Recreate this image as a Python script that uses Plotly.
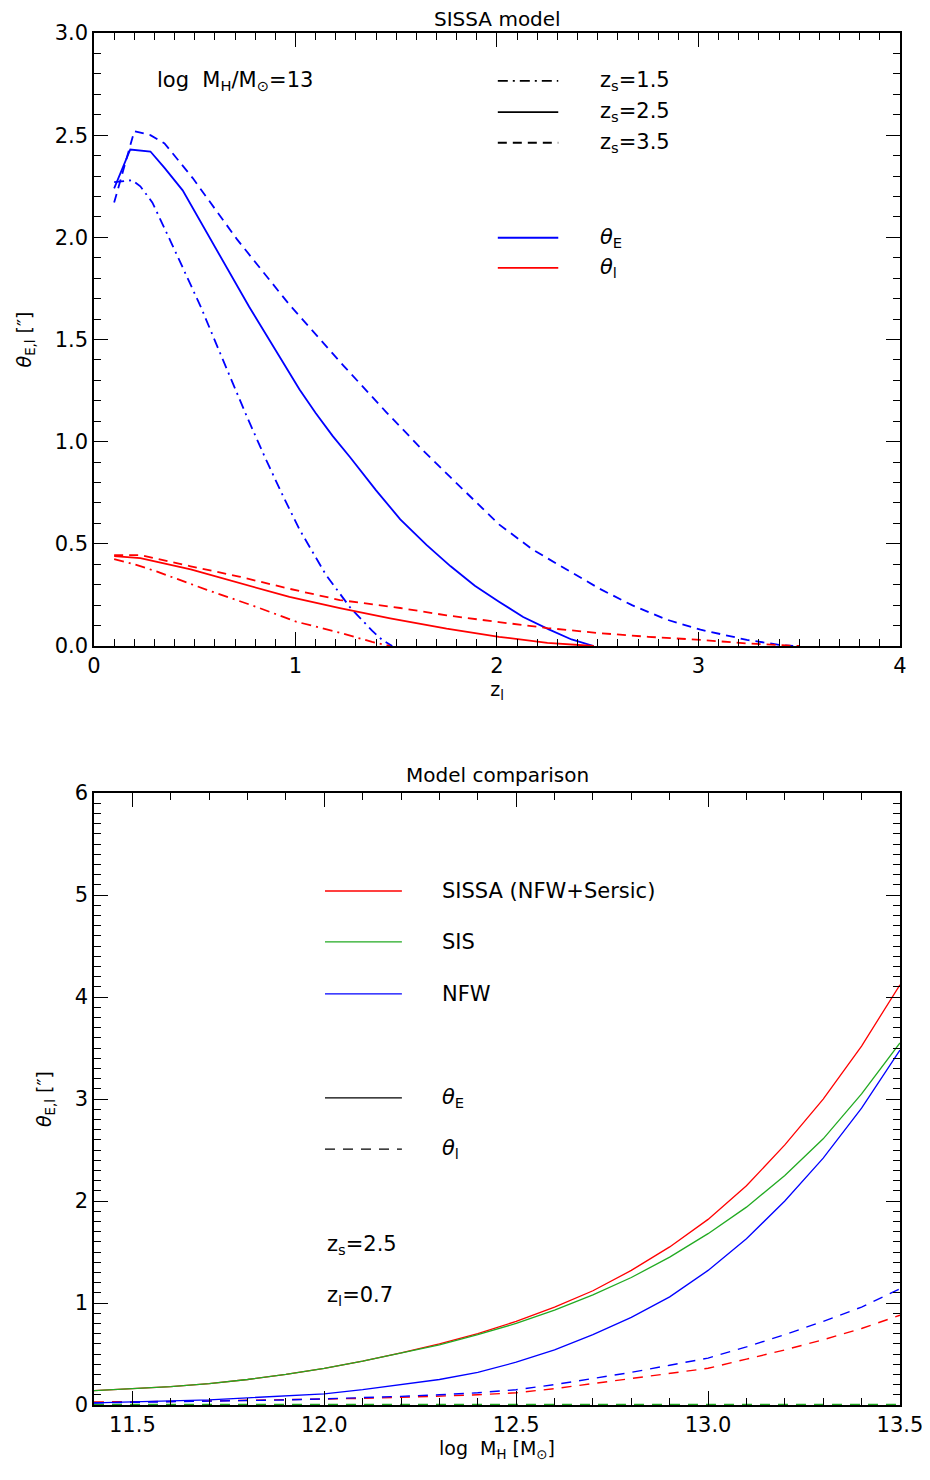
import plotly.graph_objects as go

# ---------------- Top panel data (SISSA model, log MH = 13) ----------------
zl_e15 = [0.10, 0.19, 0.23, 0.29, 0.39, 0.53, 0.64, 0.76, 0.85, 0.94, 1.02, 1.15, 1.27, 1.38, 1.43, 1.48]
te_e15 = [2.27, 2.28, 2.25, 2.17, 1.96, 1.66, 1.40, 1.12, 0.92, 0.73, 0.57, 0.35, 0.19, 0.075, 0.03, 0.0]

zl_e25 = [0.10, 0.18, 0.28, 0.35, 0.44, 0.61, 0.77, 0.94, 1.02, 1.10, 1.185, 1.27, 1.40, 1.52,
          1.65, 1.77, 1.89, 2.01, 2.13, 2.26, 2.37, 2.48]
te_e25 = [2.24, 2.43, 2.42, 2.34, 2.23, 1.94, 1.66, 1.385, 1.255, 1.14, 1.027, 0.925, 0.762, 0.62,
          0.495, 0.39, 0.295, 0.217, 0.142, 0.08, 0.032, 0.0]

zl_e35 = [0.10, 0.20, 0.28, 0.35, 0.49, 0.71, 0.97, 1.24, 1.45, 1.62, 1.77, 1.90, 2.01, 2.18,
          2.35, 2.51, 2.67, 2.84, 3.01, 3.24, 3.40, 3.47]
te_e35 = [2.17, 2.52, 2.50, 2.46, 2.29, 1.99, 1.67, 1.37, 1.145, 0.97, 0.825, 0.70, 0.595, 0.47,
          0.37, 0.28, 0.20, 0.13, 0.08, 0.03, 0.006, 0.0]

zl_i15 = [0.10, 0.20, 0.31, 0.56, 0.81, 1.00, 1.22, 1.38, 1.47]
ti_i15 = [0.425, 0.40, 0.365, 0.275, 0.19, 0.12, 0.065, 0.02, 0.0]

zl_i25 = [0.10, 0.23, 0.48, 0.72, 0.97, 1.22, 1.47, 1.75, 2.01, 2.25, 2.48]
ti_i25 = [0.44, 0.43, 0.375, 0.31, 0.24, 0.185, 0.135, 0.085, 0.045, 0.015, 0.0]

zl_i35 = [0.10, 0.23, 0.48, 0.72, 0.97, 1.22, 1.52, 1.75, 2.01, 2.25, 2.51, 2.75, 3.01, 3.25, 3.50]
ti_i35 = [0.445, 0.445, 0.39, 0.34, 0.28, 0.225, 0.186, 0.15, 0.117, 0.088, 0.063, 0.045, 0.03, 0.012, 0.0]

# ---------------- Bottom panel data (model comparison) ----------------
logM = [11.4, 11.5, 11.6, 11.7, 11.8, 11.9, 12.0, 12.1, 12.2, 12.3, 12.4,
        12.5, 12.6, 12.7, 12.8, 12.9, 13.0, 13.1, 13.2, 13.3, 13.4, 13.5]
sissa_E = [0.14, 0.16, 0.18, 0.21, 0.25, 0.30, 0.36, 0.43, 0.51, 0.60, 0.70,
           0.82, 0.96, 1.12, 1.32, 1.55, 1.82, 2.15, 2.55, 3.00, 3.52, 4.12]
sis_E = [0.14, 0.16, 0.18, 0.21, 0.25, 0.30, 0.36, 0.43, 0.51, 0.59, 0.69,
         0.80, 0.93, 1.08, 1.25, 1.45, 1.68, 1.94, 2.25, 2.61, 3.05, 3.55]
nfw_E = [0.02, 0.03, 0.04, 0.05, 0.07, 0.09, 0.11, 0.15, 0.20, 0.25, 0.32,
         0.42, 0.54, 0.69, 0.86, 1.06, 1.32, 1.63, 2.00, 2.42, 2.91, 3.48]
sissa_I = [0.03, 0.03, 0.035, 0.04, 0.045, 0.05, 0.055, 0.065, 0.075, 0.085, 0.10,
           0.12, 0.16, 0.21, 0.26, 0.31, 0.36, 0.45, 0.54, 0.64, 0.75, 0.88]
sis_I = [0.005] * 22
nfw_I = [0.02, 0.025, 0.03, 0.035, 0.04, 0.05, 0.06, 0.07, 0.085, 0.10, 0.12,
         0.15, 0.20, 0.26, 0.32, 0.39, 0.46, 0.57, 0.69, 0.82, 0.96, 1.14]

top_xticks = [0, 1, 2, 3, 4]
top_yticks = [0.0, 0.5, 1.0, 1.5, 2.0, 2.5, 3.0]
bot_xticks = [11.5, 12.0, 12.5, 13.0, 13.5]
bot_yticks = [0, 1, 2, 3, 4, 5, 6]

BLUE = "#0000ff"
RED = "#ff0000"
GREEN = "#22aa22"
DASH = "9px,6px"
DASHDOT = "10px,5px,2px,5px"
BDASH = "10px,8px"
FONT = "DejaVu Sans"

fig = go.Figure()

def add(x, y, color, dash, width, xa, ya):
    fig.add_trace(go.Scatter(x=x, y=y, mode="lines",
                             line=dict(color=color, dash=dash, width=width),
                             xaxis=xa, yaxis=ya, showlegend=False,
                             hoverinfo="skip"))

# top panel
add(zl_e15, te_e15, BLUE, DASHDOT, 1.8, "x", "y")
add(zl_e25, te_e25, BLUE, "solid", 1.8, "x", "y")
add(zl_e35, te_e35, BLUE, DASH, 1.8, "x", "y")
add(zl_i15, ti_i15, RED, DASHDOT, 1.8, "x", "y")
add(zl_i25, ti_i25, RED, "solid", 1.8, "x", "y")
add(zl_i35, ti_i35, RED, DASH, 1.8, "x", "y")

# bottom panel
add(logM, sis_I, GREEN, BDASH, 1.6, "x2", "y2")
add(logM, sissa_I, RED, BDASH, 1.4, "x2", "y2")
add(logM, nfw_I, BLUE, BDASH, 1.4, "x2", "y2")
add(logM, sissa_E, RED, "solid", 1.3, "x2", "y2")
add(logM, sis_E, GREEN, "solid", 1.3, "x2", "y2")
add(logM, nfw_E, BLUE, "solid", 1.3, "x2", "y2")

axis_common = dict(showline=True, linecolor="black", linewidth=1.5, mirror="ticks",
                   ticks="inside", tickcolor="black", tickwidth=1.2,
                   showgrid=False, zeroline=False, automargin=False,
                   ticklabeloverflow="allow",
                   tickfont=dict(family=FONT, size=21, color="black"))
minor = dict(ticks="inside", dtick=0.1, ticklen=7, tickcolor="black", tickwidth=1.2)

fig.update_layout(
    width=922, height=1464,
    paper_bgcolor="white", plot_bgcolor="white",
    margin=dict(l=86, r=30, t=25, b=67),
    showlegend=False,
    font=dict(family=FONT, size=21, color="black"),
    xaxis=dict(domain=[0, 1], anchor="y", range=[0, 4.0001], tickmode="array",
               tickvals=top_xticks, ticktext=[str(v) for v in top_xticks], ticklen=14,
               minor=minor,
               title=dict(text="z<sub>l</sub>", standoff=6, font=dict(size=19)),
               **axis_common),
    yaxis=dict(domain=[0.5532, 1], anchor="x", range=[0, 3.0001], tickmode="array",
               tickvals=top_yticks, ticktext=[f"{v:.1f}" for v in top_yticks], ticklen=14,
               minor=minor,
               title=dict(text="<i>θ</i><sub>E,l</sub> [″]", standoff=18, font=dict(size=19)),
               **axis_common),
    xaxis2=dict(domain=[0, 1], anchor="y2", range=[11.4, 13.5001], tickmode="array",
                tickvals=bot_xticks, ticktext=[f"{v:.1f}" for v in bot_xticks], ticklen=14,
                minor=minor,
                title=dict(text="log  M<sub>H</sub> [M<sub>⊙</sub>]", standoff=4, font=dict(size=19)),
                **axis_common),
    yaxis2=dict(domain=[0, 0.446], anchor="x2", range=[0, 6.0001], tickmode="array",
                tickvals=bot_yticks, ticktext=[str(v) for v in bot_yticks], ticklen=14,
                minor=minor,
                title=dict(text="<i>θ</i><sub>E,l</sub> [″]", standoff=18, font=dict(size=19)),
                **axis_common),
)

annotations = []
shapes = []

def text(s, x, y, xref, yref, xanchor="left", size=21):
    annotations.append(dict(text=s, x=x, y=y, xref=xref, yref=yref, xanchor=xanchor,
                            yanchor="middle", showarrow=False,
                            font=dict(family=FONT, size=size, color="black")))

def sample(x0, x1, y, xref, yref, color, dash, width):
    shapes.append(dict(type="line", x0=x0, x1=x1, y0=y, y1=y, xref=xref, yref=yref,
                       line=dict(color=color, dash=dash, width=width)))

# panel titles
annotations.append(dict(text="SISSA model", x=0.5, y=1, xref="x domain", yref="y domain",
                        xanchor="center", yanchor="bottom", yshift=0, showarrow=False,
                        font=dict(family=FONT, size=20, color="black")))
annotations.append(dict(text="Model comparison", x=0.5, y=1, xref="x2 domain", yref="y2 domain",
                        xanchor="center", yanchor="bottom", yshift=4, showarrow=False,
                        font=dict(family=FONT, size=20, color="black")))

# top legend
text("log  M<sub>H</sub>/M<sub>⊙</sub>=13", 0.0757, 0.922, "x domain", "y domain")
top_rows = [(0.922, "z<sub>s</sub>=1.5", "black", DASHDOT),
            (0.871, "z<sub>s</sub>=2.5", "black", "solid"),
            (0.821, "z<sub>s</sub>=3.5", "black", DASH),
            (0.666, "<i>θ</i><sub>E</sub>", BLUE, "solid"),
            (0.617, "<i>θ</i><sub>l</sub>", RED, "solid")]
for y, s, c, d in top_rows:
    sample(0.501, 0.576, y, "x domain", "y domain", c, d, 1.8)
    text(s, 0.625, y, "x domain", "y domain")

# bottom legend
bot_rows = [(0.840, "SISSA (NFW+Sersic)", RED, "solid"),
            (0.757, "SIS", GREEN, "solid"),
            (0.672, "NFW", BLUE, "solid"),
            (0.502, "<i>θ</i><sub>E</sub>", "black", "solid"),
            (0.418, "<i>θ</i><sub>l</sub>", "black", BDASH)]
for y, s, c, d in bot_rows:
    sample(0.2866, 0.382, y, "x2 domain", "y2 domain", c, d, 1.3)
    text(s, 0.429, y, "x2 domain", "y2 domain")
text("z<sub>s</sub>=2.5", 0.2866, 0.261, "x2 domain", "y2 domain")
text("z<sub>l</sub>=0.7", 0.2866, 0.178, "x2 domain", "y2 domain")

fig.update_layout(annotations=annotations, shapes=shapes)
fig.write_html("out.html")
